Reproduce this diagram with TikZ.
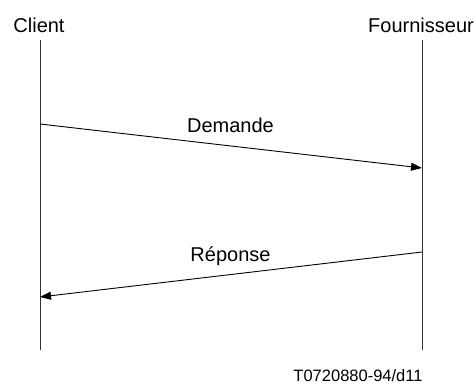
\documentclass[tikz,border=0pt]{standalone}
\usepackage{fontspec}
\setmainfont{Liberation Sans}
\usetikzlibrary{arrows.meta}
\begin{document}
\begin{tikzpicture}[x=1pt,y=-1pt,
  lifeline/.style={line width=0.9pt, draw=black!80},
  msg/.style={line width=0.9pt, -{Triangle[length=11pt,width=8pt]}},
  lbl/.style={font=\fontsize{20}{24}\selectfont, inner sep=0pt, anchor=base},
  note/.style={font=\fontsize{16.5}{20}\selectfont, inner sep=0pt, anchor=base}]
\useasboundingbox (0,0) rectangle (476,383);
\node[lbl] (client) at (39,32) {Client};
\node[lbl] (four) at (421,32) {Fournisseur};
\coordinate (ct) at (40,40);
\coordinate (cb) at (40,350);
\coordinate (ft) at (422,40);
\coordinate (fb) at (422,350);
\draw[lifeline] (ct) -- (cb);
\draw[lifeline] (ft) -- (fb);
\coordinate (d1) at (40,124);
\coordinate (d2) at (422,168);
\coordinate (r1) at (422,252);
\coordinate (r2) at (40,297);
\draw[msg] (d1) -- (d2);
\draw[msg] (r1) -- (r2);
\node[lbl] (dem) at (230.5,132) {Demande};
\node[lbl] (rep) at (230.5,261.5) {Réponse};
\node[note] (ref) at (358,381) {T0720880-94/d11};
\end{tikzpicture}
\end{document}
